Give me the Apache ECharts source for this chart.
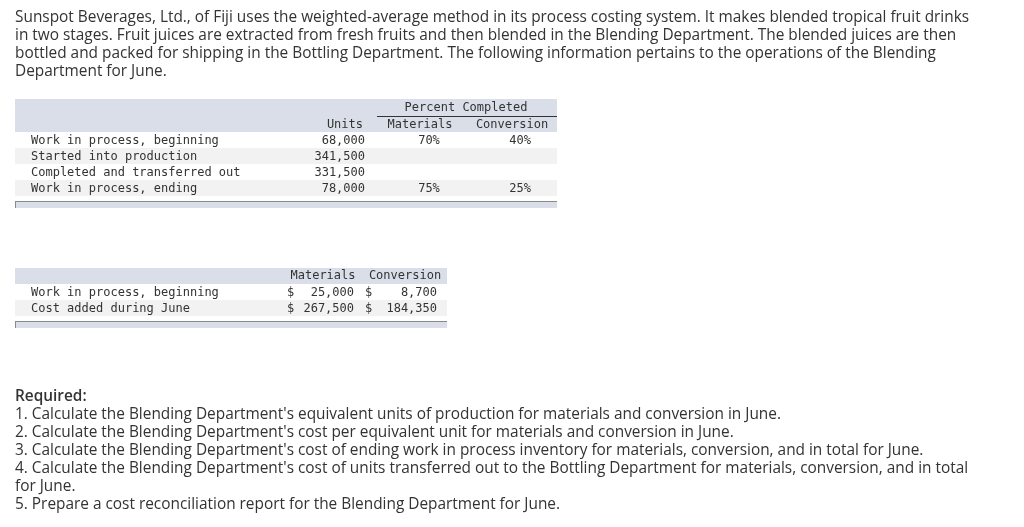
<!DOCTYPE html>
<html><head><meta charset="utf-8">
<script src="https://cdn.jsdelivr.net/npm/echarts@6/dist/echarts.min.js"></script>
<style>html,body{margin:0;padding:0;background:#fff}#c{width:1024px;height:527px}</style>
</head><body><div id="c"></div>
<script>
// ---- text content ----
const introLines = [
  "Sunspot Beverages, Ltd., of Fiji uses the weighted-average method in its process costing system. It makes blended tropical fruit drinks",
  "in two stages. Fruit juices are extracted from fresh fruits and then blended in the Blending Department. The blended juices are then",
  "bottled and packed for shipping in the Bottling Department. The following information pertains to the operations of the Blending",
  "Department for June."
];
// ---- table 1: units ----
const unitHeaders = ["Units", "Materials", "Conversion"];
const pctGroupHeader = "Percent Completed";
const unitRows = ["Work in process, beginning", "Started into production", "Completed and transferred out", "Work in process, ending"];
const unitValues = ["68,000", "341,500", "331,500", "78,000"];
const materialsPct = ["70%", "", "", "75%"];
const conversionPct = ["40%", "", "", "25%"];
// ---- table 2: costs ----
const costHeaders = ["Materials", "Conversion"];
const costRows = ["Work in process, beginning", "Cost added during June"];
const materialsCost = ["25,000", "267,500"];
const conversionCost = ["8,700", "184,350"];
// ---- required ----
const requiredTitle = "Required:";
const requiredLines = [
  "1. Calculate the Blending Department's equivalent units of production for materials and conversion in June.",
  "2. Calculate the Blending Department's cost per equivalent unit for materials and conversion in June.",
  "3. Calculate the Blending Department's cost of ending work in process inventory for materials, conversion, and in total for June.",
  "4. Calculate the Blending Department's cost of units transferred out to the Bottling Department for materials, conversion, and in total",
  "for June.",
  "5. Prepare a cost reconciliation report for the Blending Department for June."
];

const SANS = '15.4px "Open Sans", Lato, sans-serif';
const SANS_B = '600 15.4px "Open Sans", Lato, sans-serif';
const MONO = '12px "DejaVu Sans Mono", "Liberation Mono", monospace';
const TXT = '#333333';
const BAND = '#d9dee9';
const SHADE = '#f2f2f2';

const g = [];
function text(s, x, y, font, align) {
  g.push({type:'text', x:x, y:y, silent:true,
    style:{text:s, font:font, fill:TXT, textAlign:align||'left', textVerticalAlign:'middle'}});
}
function rect(x, y, w, h, fill) {
  g.push({type:'rect', silent:true, shape:{x:x,y:y,width:w,height:h}, style:{fill:fill}});
}
function line(x1,y1,x2,y2,c,w){
  g.push({type:'line', silent:true, shape:{x1:x1,y1:y1,x2:x2,y2:y2}, style:{stroke:c, lineWidth:w||1}});
}
function bottomBar(x, y, w) {
  rect(x, y, w, 7, BAND);
  line(x, y+0.5, x+w, y+0.5, '#8a8a8a', 1);
  line(x+0.5, y, x+0.5, y+7, '#8a8a8a', 1);
}

// intro
introLines.forEach((s,i)=>text(s, 15, 18+i*18, SANS));

// table 1
const t1x = 15, t1w = 542;
rect(t1x, 99, t1w, 33, BAND);
text(pctGroupHeader, 466, 108, MONO, 'center');
line(377, 116.5, 557, 116.5, '#333', 1);
text(unitHeaders[0], 363, 125, MONO, 'right');
text(unitHeaders[1], 420, 125, MONO, 'center');
text(unitHeaders[2], 512, 125, MONO, 'center');
unitRows.forEach((lab,i)=>{
  const top = 132 + i*16;
  if (i % 2 === 1) rect(t1x, top, t1w, 16, SHADE);
  const cy = top + 9;
  text(lab, 31, cy, MONO);
  text(unitValues[i], 365, cy, MONO, 'right');
  if (materialsPct[i]) text(materialsPct[i], 429, cy, MONO, 'center');
  if (conversionPct[i]) text(conversionPct[i], 531, cy, MONO, 'right');
});
bottomBar(t1x, 201, t1w);

// table 2
const t2x = 15, t2w = 432;
rect(t2x, 268, t2w, 16, BAND);
text(costHeaders[0], 323, 276, MONO, 'center');
text(costHeaders[1], 405, 276, MONO, 'center');
costRows.forEach((lab,i)=>{
  const top = 284 + i*16;
  if (i % 2 === 1) rect(t2x, top, t2w, 16, SHADE);
  const cy = top + 9;
  text(lab, 31, cy, MONO);
  text('$', 287, cy, MONO);
  text(materialsCost[i], 354, cy, MONO, 'right');
  text('$', 365, cy, MONO);
  text(conversionCost[i], 437, cy, MONO, 'right');
});
bottomBar(t2x, 321, t2w);

// required
text(requiredTitle, 15, 397, SANS_B);
requiredLines.forEach((s,i)=>text(s, 15, 415+i*18, SANS));

const chart = echarts.init(document.getElementById('c'), null, {renderer:'canvas'});
chart.setOption({backgroundColor:'#ffffff', animation:false, graphic:{elements:g}});
</script>
</body></html>
